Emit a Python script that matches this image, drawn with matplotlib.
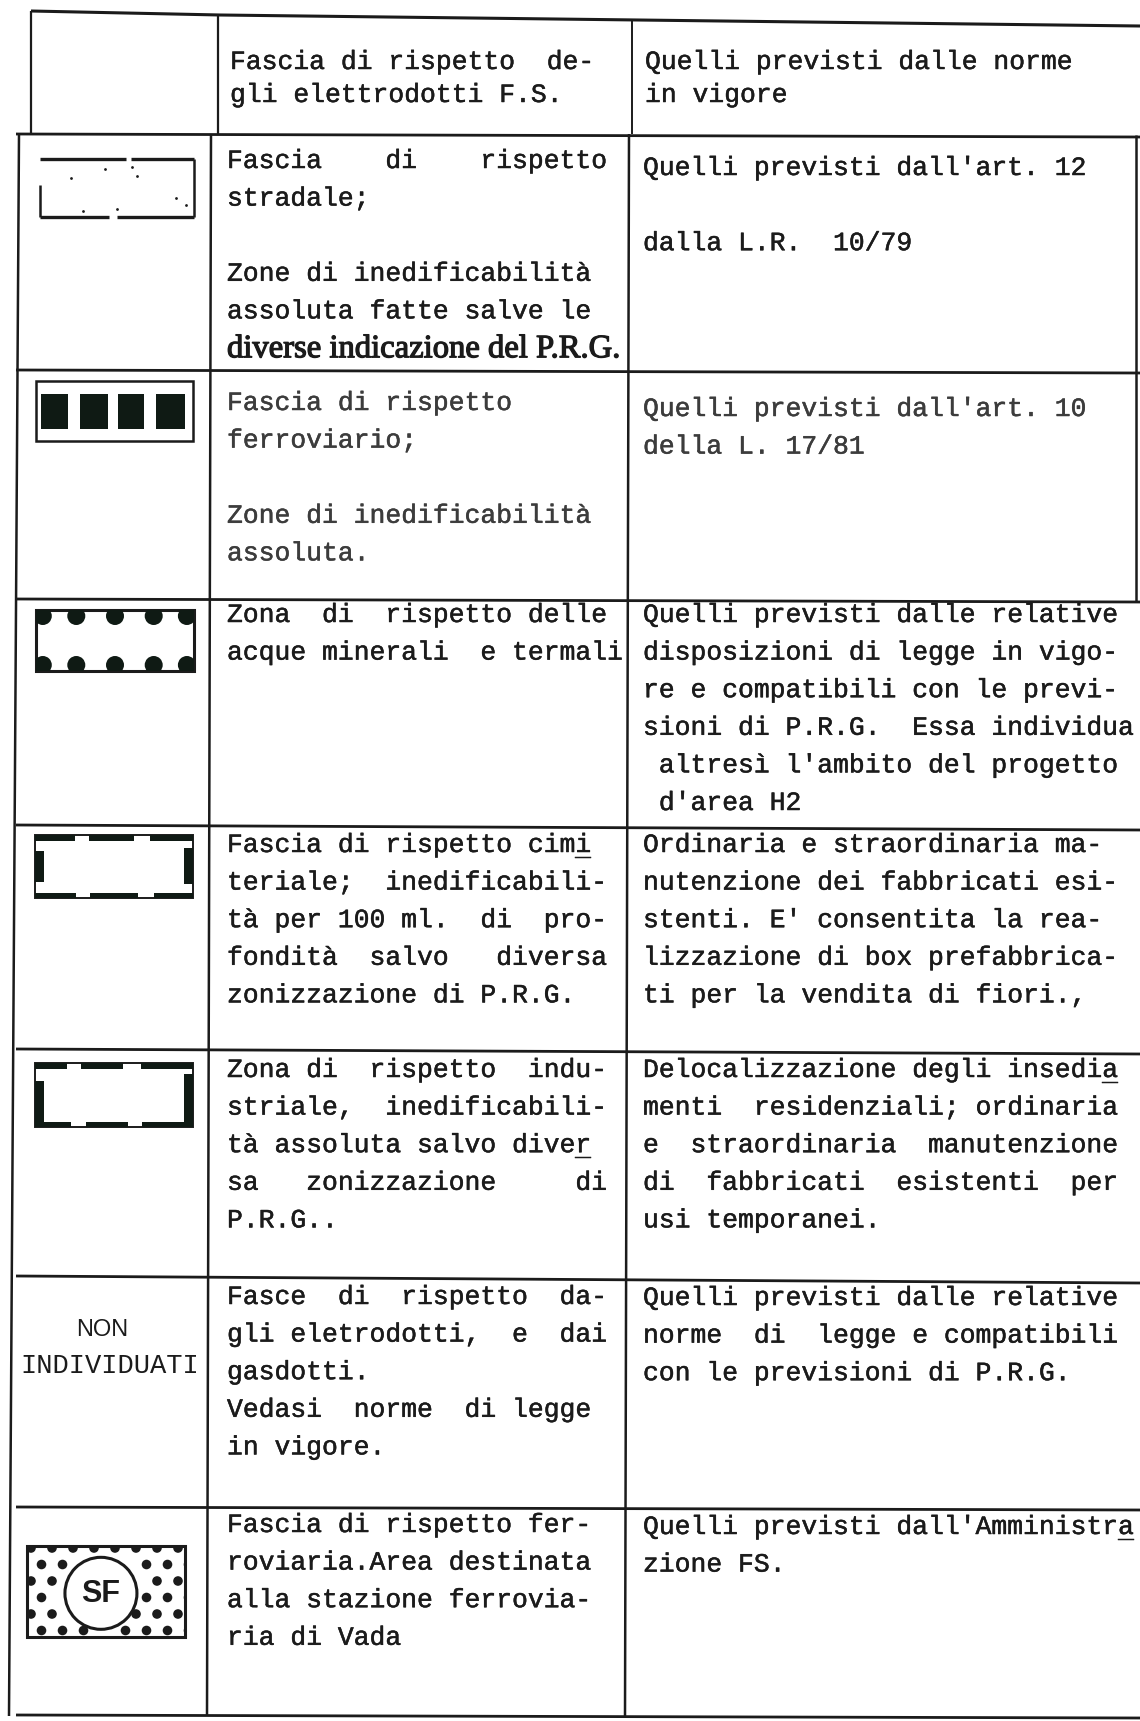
import matplotlib
matplotlib.use('Agg')
import matplotlib.pyplot as plt
import matplotlib.patheffects as pe
from matplotlib.patches import Rectangle, Circle
import numpy as np

# ---- contenuto della tabella ----
header_col2 = ['Fascia di rispetto  de-', 'gli elettrodotti F.S.']
header_col3 = ['Quelli previsti dalle norme', 'in vigore']

vincoli = [
    ['Fascia    di    rispetto', 'stradale;', '',
     'Zone di inedificabilità', 'assoluta fatte salve le'],
    ['Fascia di rispetto', 'ferroviario;', '',
     'Zone di inedificabilità', 'assoluta.'],
    ['Zona  di  rispetto delle', 'acque minerali  e termali'],
    ['Fascia di rispetto cimi', 'teriale;  inedificabili-',
     'tà per 100 ml.  di  pro-', 'fondità  salvo   diversa',
     'zonizzazione di P.R.G.'],
    ['Zona di  rispetto  indu-', 'striale,  inedificabili-',
     'tà assoluta salvo diver', 'sa   zonizzazione     di', 'P.R.G..'],
    ['Fasce  di  rispetto  da-', 'gli eletrodotti,  e  dai', 'gasdotti.',
     'Vedasi  norme  di legge', 'in vigore.'],
    ['Fascia di rispetto fer-', 'roviaria.Area destinata',
     'alla stazione ferrovia-', 'ria di Vada'],
]
row1_note = 'diverse indicazione del P.R.G.'

norme = [
    ["Quelli previsti dall'art. 12", '', 'dalla L.R.  10/79'],
    ["Quelli previsti dall'art. 10", 'della L. 17/81'],
    ['Quelli previsti dalle relative', 'disposizioni di legge in vigo-',
     're e compatibili con le previ-', 'sioni di P.R.G.  Essa individua',
     " altresì l'ambito del progetto", " d'area H2"],
    ['Ordinaria e straordinaria ma-', 'nutenzione dei fabbricati esi-',
     "stenti. E' consentita la rea-", 'lizzazione di box prefabbrica-',
     'ti per la vendita di fiori.,'],
    ['Delocalizzazione degli insedia', 'menti  residenziali; ordinaria',
     'e  straordinaria  manutenzione', 'di  fabbricati  esistenti  per',
     'usi temporanei.'],
    ['Quelli previsti dalle relative', 'norme  di  legge e compatibili',
     'con le previsioni di P.R.G.'],
    ["Quelli previsti dall'Amministra", 'zione FS.'],
]
non_individuati = ['NON', 'INDIVIDUATI']
sf_label = 'SF'
# lettere sottolineate: (riga, colonna, linea, carattere)
sottolineati = [(3, 2, 0, 22), (4, 2, 2, 22), (4, 3, 0, 29), (6, 3, 0, 30)]

# ---- impaginazione (pixel) ----
W, H = 1140, 1721
INK = '#1b1b1b'
LH = 37.6
row_y_left = [134, 370, 599, 825, 1049, 1276, 1507, 1715]
row_y_right = [137, 373, 602, 830, 1054, 1283, 1510, 1718]
y_col2 = [161, 403, 615, 845, 1070, 1297, 1525]
y_col3 = [168, 409, 615, 845, 1070, 1298, 1527]
X2, X3 = 227, 643
STROKE = 0.35

mono = dict(family='Liberation Mono', fontsize=19, va='center', ha='left',
            color=INK, path_effects=[pe.withStroke(linewidth=STROKE, foreground=INK)])


def line(ax, x0, y0, x1, y1, lw=1.6, color=INK):
    ax.plot([x0, x1], [y0, y1], color=color, lw=lw, solid_capstyle='butt')


def draw_lines(ax, x, y, lines, **kw):
    opts = dict(mono)
    opts.update(kw)
    for i, s in enumerate(lines):
        if s:
            ax.text(x, y + i * LH, s, **opts)


def sym_strada(ax, x0, y0, x1, y1):
    w, h = x1 - x0, y1 - y0
    line(ax, x0, y0, x0 + 0.56 * w, y0, lw=2.4)
    line(ax, x0 + 0.59 * w, y0, x1, y0, lw=2.4)
    line(ax, x1, y0, x1, y1, lw=1.8)
    line(ax, x0, y0 + 0.45 * h, x0, y1, lw=1.8)
    line(ax, x0, y1, x0 + 0.45 * w, y1, lw=2.4)
    line(ax, x0 + 0.5 * w, y1, x1, y1, lw=2.4)
    specks = np.array([[0.42, 0.18], [0.6, 0.14], [0.63, 0.3], [0.2, 0.33],
                       [0.88, 0.68], [0.95, 0.8], [0.5, 0.86], [0.28, 0.9]])
    ax.scatter(x0 + specks[:, 0] * w, y0 + specks[:, 1] * h, s=4, color=INK, lw=0)


def sym_ferrovia(ax, x0, y0, x1, y1):
    w, h = x1 - x0, y1 - y0
    ax.add_patch(Rectangle((x0, y0), w, h, fill=False, ec=INK, lw=1.8))
    for a, b in [(0.032, 0.202), (0.281, 0.457), (0.521, 0.691), (0.766, 0.947)]:
        ax.add_patch(Rectangle((x0 + a * w, y0 + 0.22 * h), (b - a) * w, 0.58 * h,
                               fc='#0f1a14', ec='none'))


def sym_acque(ax, x0, y0, x1, y1):
    w, h = x1 - x0, y1 - y0
    box = Rectangle((x0, y0), w, h, fill=False, ec=INK, lw=2.2)
    ax.add_patch(box)
    for f in [0.043, 0.255, 0.5, 0.745, 0.955]:
        for yc in (y0 + 6, y1 - 6):
            c = Circle((x0 + f * w, yc), 9, fc='#0f1a14', ec='none')
            ax.add_patch(c)
            c.set_clip_path(box)


def sym_cimitero(ax, x0, y0, x1, y1, top, bottom, left, right):
    w, h = x1 - x0, y1 - y0
    ax.add_patch(Rectangle((x0, y0), w, h, fill=False, ec=INK, lw=1.4))
    for a, b in top:
        ax.add_patch(Rectangle((x0 + a * w, y0), (b - a) * w, 5.5, fc='#0f1a14', ec='none'))
    for a, b in bottom:
        ax.add_patch(Rectangle((x0 + a * w, y1 - 5.5), (b - a) * w, 5.5, fc='#0f1a14', ec='none'))
    a, b = left
    ax.add_patch(Rectangle((x0, y0 + a * h), 9, (b - a) * h, fc='#0f1a14', ec='none'))
    a, b = right
    ax.add_patch(Rectangle((x1 - 9, y0 + a * h), 9, (b - a) * h, fc='#0f1a14', ec='none'))


def sym_stazione(ax, x0, y0, x1, y1):
    w, h = x1 - x0, y1 - y0
    box = Rectangle((x0, y0), w, h, fill=False, ec=INK, lw=2.2)
    ax.add_patch(box)
    cx, cy, r = x0 + 0.468 * w, y0 + 0.52 * h, 36
    pts = []
    for j, yy in enumerate(np.arange(y0 + 2, y1 + 4, 16.5)):
        off = 0 if j % 2 == 0 else 10.5
        for xx in np.arange(x0 + 4 + off, x1 + 4, 21):
            if np.hypot(xx - cx, yy - cy) > r + 4:
                pts.append((xx, yy))
    for xx, yy in pts:
        d = Circle((xx, yy), 4.8, fc=INK, ec='none')
        ax.add_patch(d)
        d.set_clip_path(box)
    ax.add_patch(Circle((cx, cy), r, fc='white', ec=INK, lw=2.2))
    ax.text(cx, cy + 1, sf_label, family='Liberation Sans', fontweight='bold',
            fontsize=22, ha='center', va='center', color=INK)


fig = plt.figure(figsize=(W / 100, H / 100), dpi=100)
ax = fig.add_axes([0, 0, 1, 1])
ax.set_xlim(0, W)
ax.set_ylim(H, 0)
ax.axis('off')

# intestazione
line(ax, 31, 11, 220, 15, lw=2.2)
line(ax, 220, 15, W, 26, lw=2.2)
line(ax, 31, 11, 31, 134)
line(ax, 218, 14, 218, 134)
line(ax, 632, 21, 632, 134, lw=1.4)
draw_lines(ax, 230, 62, header_col2[:1])
draw_lines(ax, 230, 95, header_col2[1:])
draw_lines(ax, 645, 62, header_col3[:1])
draw_lines(ax, 645, 95, header_col3[1:])

# righe della tabella
for yl, yr in zip(row_y_left, row_y_right):
    line(ax, 16, yl, W, yr, lw=2.0)
line(ax, 19, 134, 9, 1716, lw=1.8)
line(ax, 211, 134, 207, 1716, lw=1.8)
line(ax, 629, 134, 625, 1716, lw=1.8)
line(ax, 1136, 135, 1136, 602, lw=1.8)

for i in range(7):
    col = '#3c3c3c' if i == 1 else INK
    fx = [pe.withStroke(linewidth=STROKE, foreground=col)]
    draw_lines(ax, X2, y_col2[i], vincoli[i], color=col, path_effects=fx)
    draw_lines(ax, X3, y_col3[i], norme[i], color=col, path_effects=fx)

ax.text(X2, y_col2[0] + 5 * LH, row1_note, family='Liberation Serif', fontsize=23.5,
        va='center', ha='left', color=INK,
        path_effects=[pe.withStroke(linewidth=0.9, foreground=INK)])

for r, c, ln, k in sottolineati:
    x = X2 if c == 2 else X3
    y = (y_col2 if c == 2 else y_col3)[r] + ln * LH
    draw_lines(ax, x, y + 3, [' ' * k + '_'])

ax.text(102, 1330, non_individuati[0], family='Liberation Sans', fontsize=17,
        ha='center', va='center', color=INK)
ax.text(110, 1366, non_individuati[1], family='Liberation Mono', fontsize=19.5,
        ha='center', va='center', color=INK)

# simboli
sym_strada(ax, 40, 159, 194, 217)
sym_ferrovia(ax, 36, 381, 193, 441)
sym_acque(ax, 36, 610, 194, 671)
sym_cimitero(ax, 35, 835, 193, 898,
             top=[(0.0, 0.25), (0.34, 0.625), (0.73, 1.0)],
             bottom=[(0.0, 0.26), (0.35, 0.65), (0.75, 1.0)],
             left=(0.26, 0.74), right=(0.2, 0.77))
sym_cimitero(ax, 35, 1063, 193, 1127,
             top=[(0.0, 0.2), (0.29, 0.56), (0.67, 1.0)],
             bottom=[(0.0, 0.23), (0.32, 0.59), (0.68, 1.0)],
             left=(0.28, 0.94), right=(0.17, 0.94))
sym_stazione(ax, 27, 1546, 185, 1637)

fig.savefig('out.png', dpi=100, facecolor='white')
